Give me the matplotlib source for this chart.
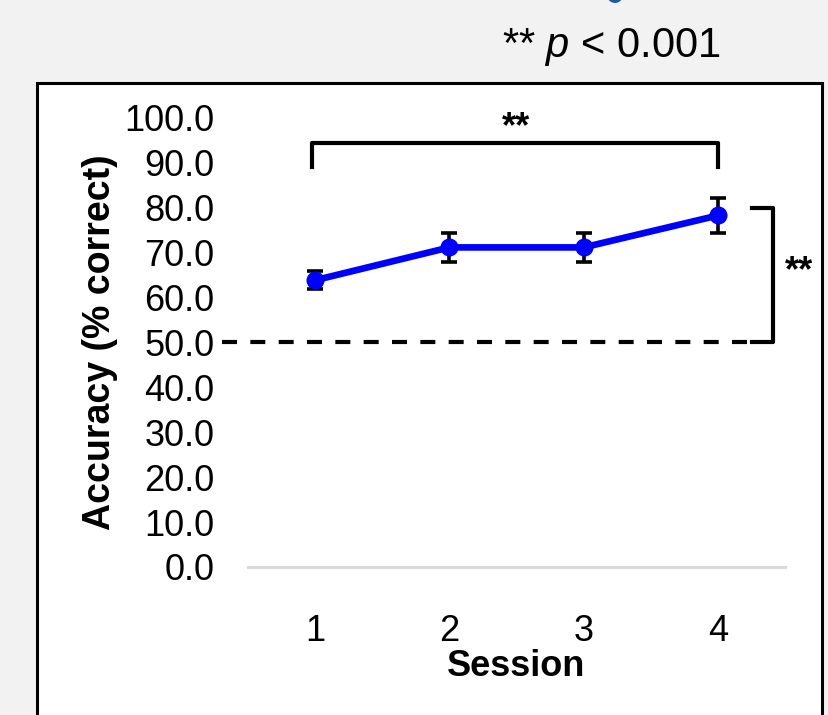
import matplotlib
matplotlib.use("Agg")
import matplotlib.pyplot as plt
from matplotlib.patches import Rectangle, Ellipse
from matplotlib.ticker import FormatStrFormatter

plt.rcParams['font.family'] = ['Liberation Sans', 'DejaVu Sans']
plt.rcParams['mathtext.fontset'] = 'custom'
plt.rcParams['mathtext.rm'] = 'Liberation Sans'
plt.rcParams['mathtext.it'] = 'Liberation Sans:italic'

# ---- data ----
sessions = [1, 2, 3, 4]
session_labels = ["1", "2", "3", "4"]
accuracy = [63.8, 71.1, 71.1, 78.2]
errors = [2.0, 3.2, 3.2, 3.8]
y_ticks = [0, 10, 20, 30, 40, 50, 60, 70, 80, 90, 100]
chance_level = 50.0
sig_text = "**"
pvalue_note = r"** $\mathit{p}$ < 0.001"

W, H = 829, 715
fig = plt.figure(figsize=(W / 100, H / 100), dpi=100)
fig.patch.set_facecolor('#f2f2f2')

# white panel with black border
fig.add_artist(Rectangle((37 / W, -0.05), (822 - 37) / W, 1 - 83 / H + 0.05,
                         transform=fig.transFigure, facecolor='white',
                         edgecolor='black', linewidth=2.2, zorder=0))
# partial blue glyph at top edge
fig.add_artist(Ellipse((615 / W, 1 + 5 / H), 16 / W, 16 / H,
                       transform=fig.transFigure, facecolor='#1f5a9a',
                       edgecolor='none', zorder=1))

ax_left, ax_right = 248 / W, 785 / W
ax_bottom, ax_top = 1 - 567 / H, 1 - 117.5 / H
ax = fig.add_axes([ax_left, ax_bottom, ax_right - ax_left, ax_top - ax_bottom])
ax.set_facecolor('none')
ax.set_xlim(0.5, 4.5)
ax.set_ylim(0, 100)
for s in ax.spines.values():
    s.set_visible(False)
ax.axhline(0, color='#d9d9d9', linewidth=2.2, zorder=1, clip_on=False)

ax.set_yticks(y_ticks)
ax.yaxis.set_major_formatter(FormatStrFormatter('%.1f'))
ax.set_xticks(sessions)
ax.set_xticklabels(session_labels)
ax.tick_params(axis='y', length=0, pad=24, labelsize=26)
ax.tick_params(axis='x', length=0, pad=34, labelsize=26)

ax.set_ylabel("Accuracy (% correct)", fontsize=27, fontweight='bold', labelpad=5)
ax.set_xlabel("Session", fontsize=26, fontweight='bold', labelpad=0)

# data line
ax.errorbar(sessions, accuracy, yerr=errors, color='#0000ff', linewidth=4.8,
            marker='o', markersize=12, ecolor='black', elinewidth=2.6,
            capsize=6, capthick=2.6, zorder=3)

# chance line
ax.plot([0.31, 4.254], [chance_level, chance_level], color='black', linewidth=3,
        dashes=(3.6, 3.2), clip_on=False, zorder=2)

# top bracket (session 1 vs 4)
ax.plot([1 - 0.02, 1 - 0.02, 4 + 0.0, 4 + 0.0], [89.0, 94.4, 94.4, 89.0],
        color='black', linewidth=3, solid_joinstyle='round', clip_on=False)
ax.text(2.5, 95.6, sig_text, ha='center', va='baseline', fontsize=26,
        fontweight='bold')

# right bracket (session 4 vs chance)
ax.plot([4.254, 4.41, 4.41, 4.254], [79.9, 79.9, chance_level, chance_level],
        color='black', linewidth=3, solid_joinstyle='round', clip_on=False)
ax.text(4.5, 63.6, sig_text, ha='left', va='baseline', fontsize=26,
        fontweight='bold')

# p-value note
fig.text(611 / W, 1 - 57 / H, pvalue_note, ha='center', va='baseline', fontsize=30)

fig.savefig("out.png", dpi=100, facecolor=fig.get_facecolor())
